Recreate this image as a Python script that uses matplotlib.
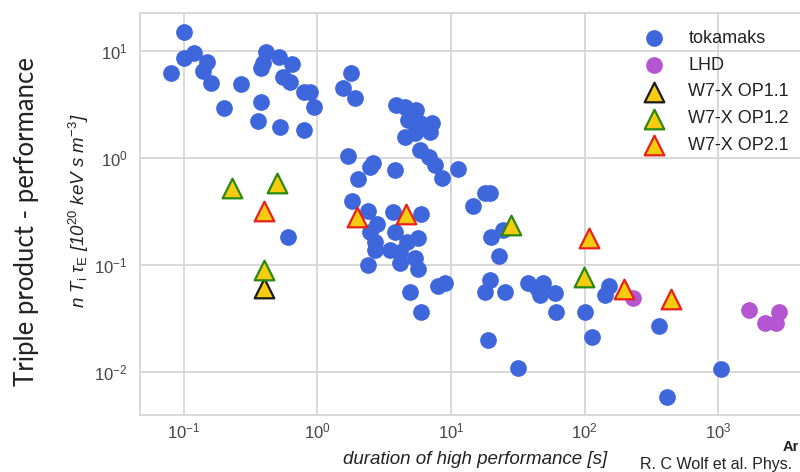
import numpy as np
import matplotlib
matplotlib.use('Agg')
import matplotlib.pyplot as plt

plt.rcParams['font.family'] = ['Liberation Sans', 'DejaVu Sans']
plt.rcParams['mathtext.fontset'] = 'custom'
plt.rcParams['mathtext.rm'] = 'Liberation Sans'
plt.rcParams['mathtext.it'] = 'Liberation Sans:italic'
plt.rcParams['mathtext.bf'] = 'Liberation Sans:bold'

# tokamaks: duration of high performance [s], triple product [1e20 keV s m^-3]
tokamak_dur = [0.10, 0.080, 0.10, 0.12, 0.15, 0.14, 0.16, 0.20, 0.27, 0.41,
               0.39, 0.38, 0.52, 0.65, 0.55, 0.62, 0.38, 0.36, 0.53, 0.80,
               0.79, 0.88, 0.95, 1.78, 1.55, 1.91, 3.9, 4.5, 5.5, 4.8,
               5.9, 7.2, 7.0, 4.5, 5.4, 5.2, 5.9, 6.8, 7.6, 8.5,
               11.3, 1.71, 2.6, 2.5, 2.0, 3.8, 1.81, 2.4, 3.7, 6.0,
               2.8, 2.5, 2.7, 2.7, 3.8, 4.7, 5.7, 3.5, 4.15, 4.15,
               5.4, 5.7, 2.4, 4.9, 8.0, 9.0, 6.0, 14.7, 17.9, 19.5,
               20.1, 24.6, 22.9, 19.5, 17.9, 25.3, 37.8, 48.9, 46.2, 59.9,
               43.7, 60.9, 100, 113, 19.0, 31.8, 142, 152, 361, 1056,
               410, 0.60]
tokamak_ntt = [15.1, 6.2, 8.6, 9.5, 7.9, 6.4, 5.0, 2.9, 4.9, 9.7,
               7.6, 6.9, 8.8, 7.5, 5.7, 5.1, 3.3, 2.2, 1.95, 1.8,
               4.1, 4.1, 3.0, 6.2, 4.45, 3.6, 3.1, 3.0, 2.8, 2.25,
               2.1, 2.1, 1.75, 1.57, 1.69, 2.35, 1.18, 1.02, 0.86, 0.64,
               0.78, 1.04, 0.89, 0.82, 0.63, 0.76, 0.39, 0.32, 0.31, 0.30,
               0.24, 0.20, 0.164, 0.137, 0.20, 0.164, 0.177, 0.137, 0.132, 0.104,
               0.115, 0.092, 0.099, 0.056, 0.063, 0.068, 0.036, 0.35, 0.465, 0.47,
               0.183, 0.21, 0.121, 0.072, 0.056, 0.056, 0.067, 0.067, 0.052, 0.054,
               0.060, 0.036, 0.036, 0.021, 0.020, 0.0108, 0.052, 0.063, 0.027, 0.0105,
               0.0058, 0.180]

lhd_dur = [231, 1700, 2220, 2690, 2850]
lhd_ntt = [0.0485, 0.0377, 0.0283, 0.0283, 0.0364]

op11_dur = [0.40]
op11_ntt = [0.060]

op12_dur = [0.229, 0.497, 0.40, 27.9, 98.6]
op12_ntt = [0.518, 0.584, 0.089, 0.235, 0.076]

op21_dur = [0.40, 1.99, 4.58, 107.5, 196, 446]
op21_ntt = [0.320, 0.281, 0.296, 0.177, 0.0589, 0.0475]

W, H = 800, 472
fig = plt.figure(figsize=(W / 100, H / 100), dpi=100)
ax = fig.add_axes([140 / W, 57 / H, 670 / W, 402 / H])

ax.scatter(tokamak_dur, tokamak_ntt, s=145, color='#3f67dc', linewidths=0,
           label='tokamaks', zorder=3)
ax.scatter(lhd_dur, lhd_ntt, s=145, color='#b456d2', linewidths=0,
           label='LHD', zorder=3)
ax.scatter(op11_dur, op11_ntt, s=200, marker='^', facecolor='#f7cc10',
           edgecolor='#1a1a1a', linewidths=1.6, label='W7-X OP1.1', zorder=4)
ax.scatter(op12_dur, op12_ntt, s=200, marker='^', facecolor='#f7cc10',
           edgecolor='#2a8a10', linewidths=1.6, label='W7-X OP1.2', zorder=4)
ax.scatter(op21_dur, op21_ntt, s=200, marker='^', facecolor='#f7cc10',
           edgecolor='#e8201a', linewidths=1.6, label='W7-X OP2.1', zorder=4)

ax.set_xscale('log')
ax.set_yscale('log')
ax.set_xlim(0.0472, 4853)
ax.set_ylim(0.00394, 22.5)
ax.minorticks_off()
ax.grid(True, color='#d6d6d6', linewidth=1.3, zorder=0)
ax.set_axisbelow(True)
for sp in ax.spines.values():
    sp.set_color('#d6d6d6')
    sp.set_linewidth(1.3)
ax.tick_params(length=0, labelsize=12, colors='#444444')
ax.tick_params(axis='y', pad=9)
ax.tick_params(axis='x', pad=5)

leg = ax.legend(loc='upper left', bbox_to_anchor=(636 / W, 1 - 30 / H),
                bbox_transform=fig.transFigure, frameon=False, fontsize=13,
                borderpad=0, borderaxespad=0, handlelength=2.0,
                handletextpad=0.9, labelspacing=0.54)
for t in leg.get_texts():
    t.set_color('#222222')

fig.text(475 / W, 1 - 460 / H, 'duration of high performance [s]',
         style='italic', fontsize=13.5, color='#222222', ha='center', va='center')
fig.text(79 / W, 1 - 211 / H,
         r'$n\ T_{\mathrm{i}}\ \tau_{\mathrm{E}}$ [10$^{20}$ keV s m$^{-3}$]',
         style='italic', fontsize=13.5, color='#222222', rotation=90,
         ha='center', va='center')
fig.text(27 / W, 1 - 222 / H, 'Triple product - performance', rotation=90,
         family=['Lato', 'DejaVu Sans'], fontsize=18.5,
         color='#222222', ha='center', va='center')

fig.text(783 / W, 1 - 447 / H, 'Ar', fontsize=10.5, fontweight='bold',
         color='#222222', ha='left', va='center')
fig.text(640 / W, 1 - 464 / H, 'R. C Wolf et al. Phys.', fontsize=11.5,
         color='#222222', ha='left', va='center')

fig.savefig('out.png', dpi=100)
